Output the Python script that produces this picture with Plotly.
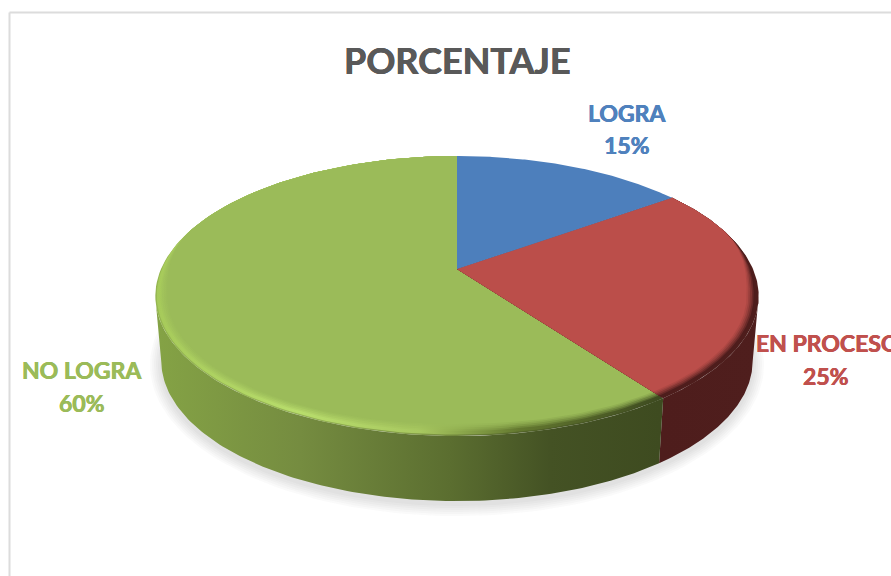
import math
import plotly.graph_objects as go

TITLE = "PORCENTAJE"
categories = ["LOGRA", "EN PROCESO", "NO LOGRA"]
percent = [15, 25, 60]
slice_colors = ["#4d7fbc", "#bb4e4a", "#9bbb59"]
label_colors = ["#4f81bd", "#c0504d", "#9bbb59"]
name_pos = [(626.5, 112.5), (828, 343), (81.5, 369.5)]
value_pos = [(626.5, 145), (826, 375.5), (81.5, 403)]

# canvas geometry (pixel-based axes)
W, H = 891, 576
APEX = (457, 269)
K, A_Y, B_X = 0.193, 134.8, 296.0
CX, CY, RX, RY = 457.0, 296.0, 302.0, 140.0       # top-face ellipse
BX, BY, BRX, BRY = 457.0, 361.0, 296.0, 140.0     # bottom-face ellipse
BAND = 12.0

SIDE = {
    "EN PROCESO": [(660, "#4e1d1c"), (759, "#4f1e1d")],
    "NO LOGRA": [(160, "#84a245"), (300, "#758c40"), (450, "#5b6e30"), (550, "#445224"), (660, "#3e4b20")],
}
CREST = {
    "EN PROCESO": [(660, "#4e1d1c"), (759, "#4e1d1c")],
    "NO LOGRA": [(155, "#a6ca5a"), (300, "#b8dd6c"), (420, "#a8c860"), (520, "#63782f"), (660, "#3e4b20")],
}
LAYERS = [(0.0, 0.55), (0.12, 1.0), (0.28, 1.0), (0.42, 0.75), (0.56, 0.5), (0.72, 0.28), (0.86, 0.12)]


def rgb(h):
    return tuple(int(h[i:i + 2], 16) for i in (1, 3, 5))


def mix(c1, c2, f):
    a, b = rgb(c1), rgb(c2)
    return "#%02x%02x%02x" % tuple(round(a[i] + (b[i] - a[i]) * f) for i in range(3))


def rim(theta):
    """Pixel position on the top-face rim of a pie angle, under the chart's perspective."""
    u, v = math.sin(theta), -math.cos(theta)
    d = 1 - K * v
    return APEX[0] + B_X * u / d, APEX[1] + A_Y * v / d


def thetas(start_pct, stop_pct, n=120):
    return [2 * math.pi * (start_pct + (stop_pct - start_pct) * i / n) / 100 for i in range(n + 1)]


def smooth(x):
    x = max(0.0, min(1.0, x))
    return x * x * (3 - 2 * x)


def inset(p, t):
    """Move a rim point towards the apex: bevel only on the front of the disc."""
    ey = (p[1] - CY) / RY
    w = smooth((ey + 0.5) / 0.5)
    dx, dy = APEX[0] - p[0], APEX[1] - p[1]
    n = math.hypot(dx, dy)
    return p[0] + dx / n * BAND * t * w, p[1] + dy / n * BAND * t * w


def to_bottom(p):
    return BX + (p[0] - CX) / RX * BRX, BY + (p[1] - CY) / RY * BRY


def scale_for(stops):
    lo, hi = stops[0][0], stops[-1][0]
    return lo, hi, [[(p - lo) / (hi - lo), c] for p, c in stops]


fig = go.Figure()


def add_poly(xs, ys, color=None, stops=None):
    kw = dict(x=xs, y=ys, mode="lines", fill="toself", line=dict(width=0),
              hoverinfo="skip", showlegend=False)
    if stops:
        lo, hi, cs = scale_for(stops)
        kw["fillgradient"] = dict(type="horizontal", start=lo, stop=hi, colorscale=cs)
        kw["fillcolor"] = stops[0][1]
    else:
        kw["fillcolor"] = color
    fig.add_trace(go.Scatter(**kw))


# soft shadow below the disc
ang = [2 * math.pi * i / 180 for i in range(181)]
for d in (11, 9, 7, 5, 3, 1):
    add_poly([BX + (BRX + d) * math.sin(t) for t in ang],
             [BY + 4 + (BRY + d) * math.cos(t) for t in ang],
             color="rgba(60,60,70,0.028)")

# cumulative boundaries, clockwise from 12 o'clock
bounds = [0]
for p in percent:
    bounds.append(bounds[-1] + p)

# side walls: only the part of each rim between the disc's left and right extremes
for name, start, stop in zip(categories, bounds[:-1], bounds[1:]):
    if name not in SIDE:
        continue
    top_pts = [rim(t) for t in thetas(start, stop, 240)]
    top_pts = [p for p in top_pts if p[1] >= CY - 0.5]
    bot_pts = [to_bottom(p) for p in top_pts]
    xs = [p[0] for p in bot_pts] + [p[0] for p in reversed(top_pts)]
    ys = [p[1] for p in bot_pts] + [p[1] for p in reversed(top_pts)]
    add_poly(xs, ys, stops=SIDE[name])


def wedge(start, stop, t):
    pts = [inset(rim(a), t) for a in thetas(start, stop)]
    return ([APEX[0]] + [p[0] for p in pts] + [APEX[0]],
            [APEX[1]] + [p[1] for p in pts] + [APEX[1]])


# top face: bevel layers, then the flat colour
for i in (2, 1, 0):
    name, start, stop = categories[i], bounds[i], bounds[i + 1]
    top = slice_colors[i]
    if name in CREST:
        for t, f in LAYERS:
            stops = [(p, mix(top, c, f)) for p, c in CREST[name]]
            if t == 0.0:
                side_end = SIDE[name]
                stops = [(p, mix(side_end[min(j, len(side_end) - 1)][1], c, 0.5))
                         for j, (p, c) in enumerate(CREST[name])]
            xs, ys = wedge(start, stop, t)
            add_poly(xs, ys, stops=stops)
        xs, ys = wedge(start, stop, 1.0)
    else:
        xs, ys = wedge(start, stop, 0.0)
    add_poly(xs, ys, color=top)


def label(text, x, y, size, color):
    return dict(x=x, y=y, xref="x", yref="y", showarrow=False, text=f"<b>{text}</b>",
                xanchor="center", yanchor="middle",
                font=dict(family="Lato", size=size, color=color,
                          shadow=f"0.35px 0 0 {color}, -0.35px 0 0 {color}"))


annotations = [label(TITLE, 457.5, 60, 36, "#595959")]
for c, p, col, np_, vp in zip(categories, percent, label_colors, name_pos, value_pos):
    annotations.append(label(c, np_[0], np_[1], 23, col))
    annotations.append(label(f"{p}%", vp[0], vp[1], 23, col))

fig.update_layout(
    width=W, height=H, margin=dict(l=0, r=0, t=0, b=0),
    paper_bgcolor="white", plot_bgcolor="white", showlegend=False,
    xaxis=dict(range=[0, W], visible=False, fixedrange=True),
    yaxis=dict(range=[H, 0], visible=False, fixedrange=True),
    annotations=annotations,
    shapes=[
        dict(type="line", x0=9.5, x1=9.5, y0=12.5, y1=H, xref="x", yref="y", line=dict(color="#dcdcdc", width=2), layer="below"),
        dict(type="line", x0=9.5, x1=W, y0=12.5, y1=12.5, xref="x", yref="y", line=dict(color="#dcdcdc", width=2), layer="below"),
    ],
)

fig.write_html("out.html", config=dict(displayModeBar=False),
               post_script="document.body.style.margin='0';document.body.style.overflow='hidden';")
